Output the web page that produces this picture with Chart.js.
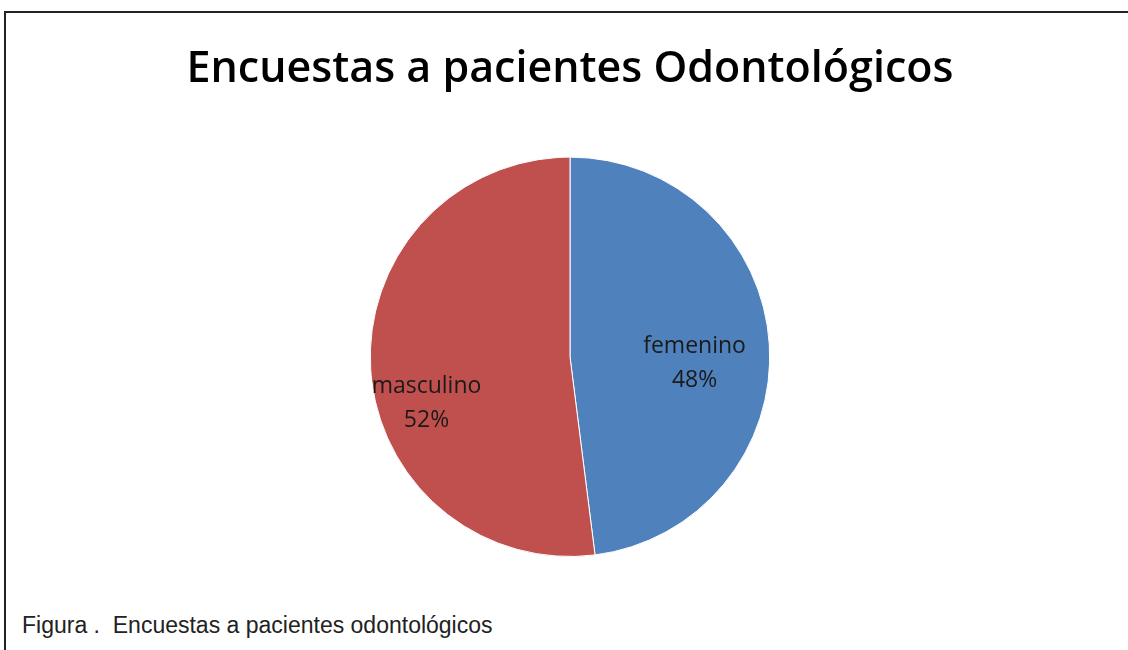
<!DOCTYPE html>
<html>
<head>
<meta charset="utf-8">
<script src="https://cdn.jsdelivr.net/npm/chart.js@4"></script>
<style>
  body { margin: 0; background: #fff; width: 1128px; height: 650px; overflow: hidden; position: relative; }
  #frame { position: absolute; left: 4px; top: 11px; right: -10px; bottom: -10px;
           border-top: 2px solid #222; border-left: 2px solid #222; }
  #wrap { position: absolute; left: 0; top: 0; width: 1140px; height: 562px; }
  #caption { position: absolute; left: 22px; top: 612px; font-family: "Liberation Sans", Arial, sans-serif;
             font-size: 23px; color: #222; white-space: pre; }
</style>
</head>
<body>
<div id="frame"></div>
<div id="wrap"><canvas id="chart"></canvas></div>
<div id="caption">Figura .  Encuestas a pacientes odontológicos</div>
<script>
const titleText = "Encuestas a pacientes Odontológicos";
const labels = ["femenino", "masculino"];
const values = [48, 52];
const colors = ["#4F81BD", "#C0504D"];

// where each label block sits: fraction of radius along the mid angle, plus a vertical nudge
const labelPlace = [{frac: 0.625, dy: 14}, {frac: 0.72, dy: 38}];

const sliceLabels = {
    id: "sliceLabels",
    afterDatasetsDraw(chart) {
        const ctx = chart.ctx;
        const total = values.reduce((a, b) => a + b, 0);
        chart.getDatasetMeta(0).data.forEach((arc, i) => {
            const p = arc.getProps(["x", "y", "startAngle", "endAngle", "outerRadius"], true);
            const mid = (p.startAngle + p.endAngle) / 2;
            const r = p.outerRadius * labelPlace[i].frac;
            const x = p.x + Math.cos(mid) * r;
            const y = p.y + Math.sin(mid) * r + labelPlace[i].dy;
            ctx.save();
            ctx.font = '23px "Open Sans", sans-serif';
            ctx.fillStyle = "#1a1a1a";
            ctx.textAlign = "center";
            ctx.textBaseline = "middle";
            ctx.fillText(labels[i], x, y - 17);
            ctx.fillText(Math.round(values[i] / total * 100) + "%", x, y + 17);
            ctx.restore();
        });
    }
};

new Chart(document.getElementById("chart"), {
    type: "pie",
    data: {
        labels: labels,
        datasets: [{
            data: values,
            backgroundColor: colors,
            borderColor: "#ffffff",
            borderWidth: 1
        }]
    },
    options: {
        responsive: true,
        maintainAspectRatio: false,
        animation: false,
        layout: { padding: { top: 0, bottom: 5 } },
        plugins: {
            legend: { display: false },
            tooltip: { enabled: false },
            title: {
                display: true,
                text: titleText,
                color: "#000",
                font: { family: '"Open Sans", sans-serif', size: 43, weight: "600", lineHeight: 1.2 },
                padding: { top: 44, bottom: 61 }
            }
        }
    },
    plugins: [sliceLabels]
});
</script>
</body>
</html>
